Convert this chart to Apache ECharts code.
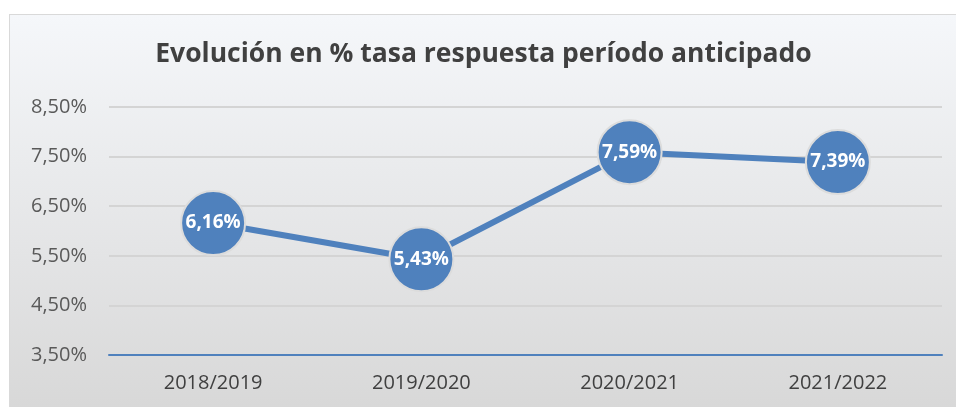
<!DOCTYPE html>
<html>
<head>
<meta charset="utf-8">
<script src="https://cdn.jsdelivr.net/npm/echarts@6/dist/echarts.min.js"></script>
<style>
  html, body { margin: 0; padding: 0; background: #fff; }
  #chart {
    position: absolute; left: 9px; top: 14px;
    width: 947px; height: 393px;
    border-left: 1px solid #d9d9d9; border-top: 1px solid #d9d9d9;
  }
</style>
</head>
<body>
<div id="chart"></div>
<script>
const FONT = 'Open Sans, Noto Sans, sans-serif'

const titleText = 'Evolución en % tasa respuesta período anticipado'
const periods = ['2018/2019', '2019/2020', '2020/2021', '2021/2022']
const tasa = [6.16, 5.43, 7.59, 7.39] // %
const yMin = 3.5
const yMax = 8.5
const yStep = 1

const pct = (v) => v.toFixed(2).replace('.', ',') + '%'

const chart = echarts.init(document.getElementById('chart'))

chart.setOption({
  backgroundColor: {
    type: 'linear', x: 0, y: 0, x2: 0, y2: 1,
    colorStops: [
      { offset: 0, color: '#f5f7fa' },
      { offset: 1, color: '#d8d8d8' },
    ],
  },
  title: {
    text: titleText,
    left: 'center',
    top: 21,
    textStyle: { color: '#404040', fontSize: 26.5, fontWeight: 'bold', fontFamily: FONT },
  },
  grid: { left: 99, right: 15, top: 92, bottom: 53, containLabel: false },
  xAxis: {
    type: 'category',
    data: periods,
    boundaryGap: true,
    axisLine: { lineStyle: { color: '#4f81bd', width: 2 } },
    axisTick: { show: false },
    axisLabel: { color: '#404040', fontSize: 20, margin: 18, fontFamily: FONT },
  },
  yAxis: {
    type: 'value',
    min: yMin,
    max: yMax,
    interval: yStep,
    axisLine: { show: false },
    axisTick: { show: false },
    axisLabel: { color: '#595959', fontSize: 20, margin: 22, fontFamily: FONT, formatter: pct },
    splitLine: { lineStyle: { color: '#d4d4d4', width: 2 } },
  },
  series: [
    {
      type: 'line',
      data: tasa,
      symbol: 'circle',
      symbolSize: 64,
      lineStyle: { color: '#4f81bd', width: 6 },
      itemStyle: { color: '#4f81bd', borderColor: '#dcdcdc', borderWidth: 2 },
      label: {
        show: true,
        position: 'inside',
        formatter: (p) => pct(p.value),
        color: '#fff',
        fontSize: 19,
        fontWeight: 'bold',
        fontFamily: FONT,
      },
    },
  ],
})
</script>
</body>
</html>
